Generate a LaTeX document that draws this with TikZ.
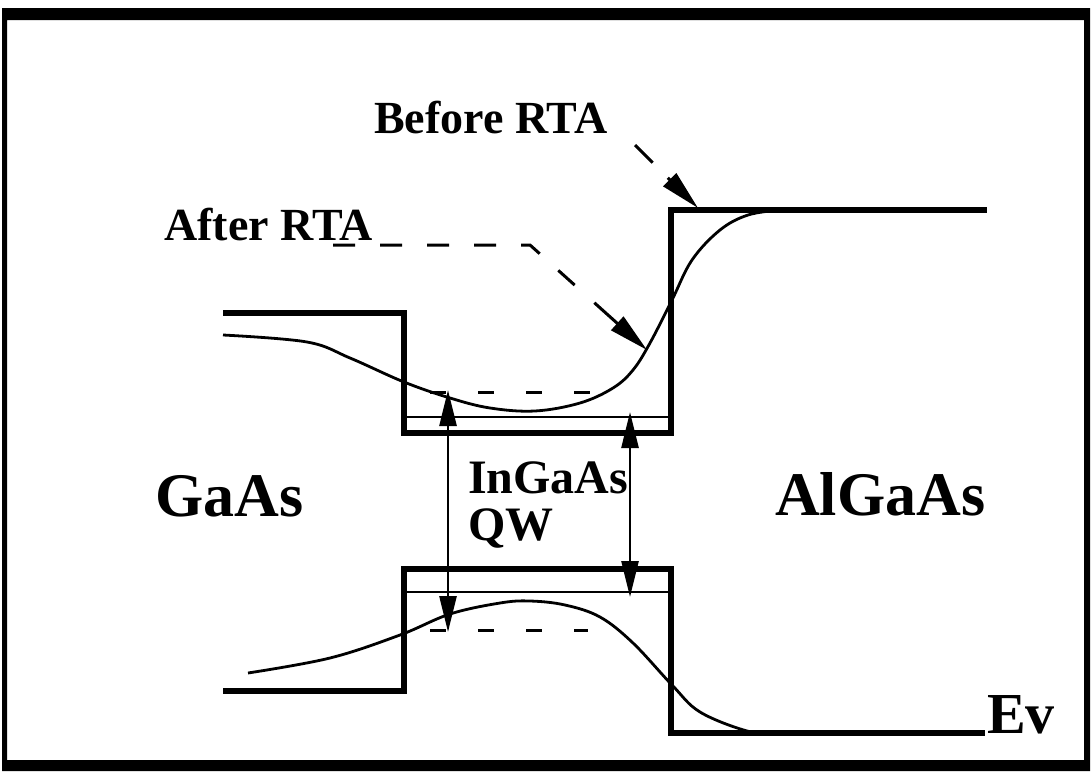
\documentclass[tikz,border=0pt]{standalone}
\usepackage{fontspec}
\setmainfont{Liberation Serif}
\usetikzlibrary{arrows.meta,calc}
\begin{document}
\begin{tikzpicture}[x=1pt,y=-1pt,
  band/.style={line width=5.5pt,line join=miter,line cap=butt},
  level/.style={line width=2.5pt},
  soft/.style={line width=2.8pt},
  dashline/.style={line width=3pt,dash pattern=on 16pt off 32pt},
  tip/.style={-{Triangle[length=40pt,width=18pt]}},
  dbl/.style={line width=2.6pt,{Triangle[length=36pt,width=17pt]}-{Triangle[length=36pt,width=17pt]}},
  lbl/.style={font=\bfseries,inner sep=0pt,anchor=base west}]
\useasboundingbox (0,0) rectangle (1091,771);
% frame
\fill[black,even odd rule] (2,8) rectangle (1090,771) (7,20) rectangle (1084,760);
% conduction band (before RTA)
\draw[band] (223,313) -- (404,313) -- (404,433) -- (671,433) -- (671,210) -- (987,210);
\draw[level] (404,417) -- (671,417);
% valence band (before RTA)
\draw[band] (223,691) -- (404,691) -- (404,569) -- (671,569) -- (671,733) -- (985,733);
\draw[level] (404,592) -- (671,592);
% after RTA curves
\draw[soft] plot[smooth,tension=0.6] coordinates {(223,335) (307,342) (350,358) (404,382) (450,398) (490,408) (535,411) (580,403) (613,388) (633,370) (650,343) (672,300) (692,260) (720,230) (748,215) (780,210)};
\draw[soft] plot[smooth,tension=0.6] coordinates {(248,673) (330,658) (400,635) (450,614) (500,603) (530,601) (565,605) (600,617) (633,643) (672,685) (700,712) (747,731) (775,733)};
% shifted levels (dashed)
\coordinate (cl) at (430,392); \coordinate (cr) at (598,392);
\coordinate (vl) at (430,630); \coordinate (vr) at (588,630);
\draw[dashline] (cl) -- (cr);
\draw[dashline] (vl) -- (vr);
% transition arrows
\coordinate (a1) at (448,390); \coordinate (a2) at (448,632);
\coordinate (b1) at (630,412); \coordinate (b2) at (630,597);
\draw[dbl] (a1) -- (a2);
\draw[dbl] (b1) -- (b2);
% labels
\node[lbl,font=\bfseries\fontsize{46}{46}\selectfont] (before) at (374,133) {Before RTA};
\node[lbl,font=\bfseries\fontsize{46}{46}\selectfont] (after) at (164,240) {After RTA};
\node[lbl,font=\bfseries\fontsize{62}{62}\selectfont] (gaas) at (155,516) {GaAs};
\node[lbl,font=\bfseries\fontsize{62}{62}\selectfont] (algaas) at (775,515) {AlGaAs};
\node[lbl,font=\bfseries\fontsize{48}{48}\selectfont] (ingaas) at (468,493) {InGaAs};
\node[lbl,font=\bfseries\fontsize{48}{48}\selectfont] (qw) at (468,540) {QW};
\node[lbl,font=\bfseries\fontsize{58}{58}\selectfont] (ev) at (987,733) {Ev};
% pointer arrows
\coordinate (bs) at (635,145); \coordinate (bt) at (698,208);
\draw[line width=3pt] (bs) -- ($(bs)!0.28!(bt)$);
\draw[line width=3pt,tip] ($(bs)!0.52!(bt)$) -- (bt);
\coordinate (as) at (333,245); \coordinate (am) at (530,245); \coordinate (at) at (647,350);
\draw[line width=3pt,dash pattern=on 22pt off 25pt] (as) -- (am) -- ($(am)!0.45!(at)$);
\draw[line width=3pt,tip] ($(am)!0.55!(at)$) -- (at);
\end{tikzpicture}
\end{document}
